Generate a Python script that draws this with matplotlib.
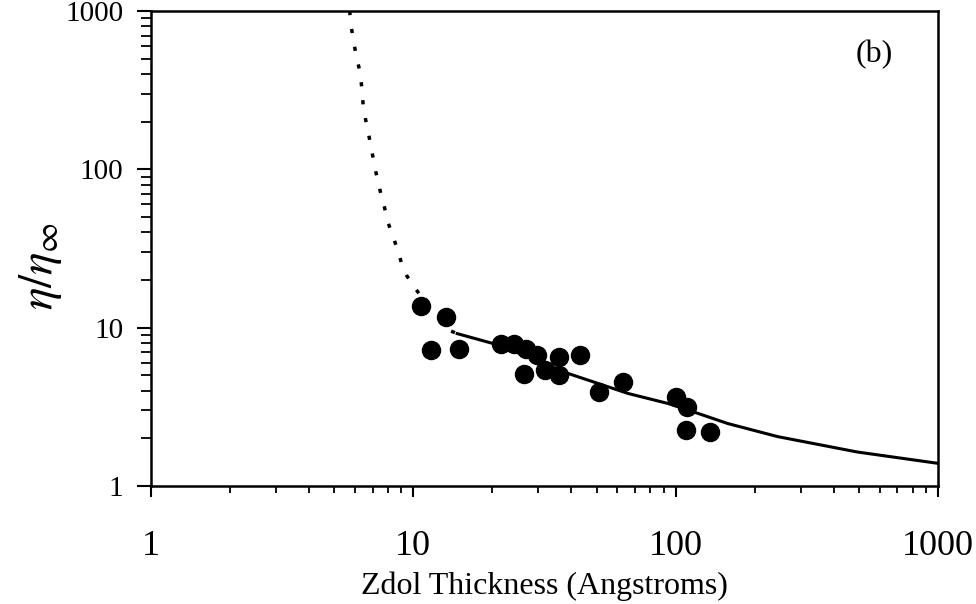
import matplotlib
matplotlib.use("Agg")
import matplotlib.pyplot as plt
from matplotlib.ticker import LogLocator, FixedLocator, NullFormatter

# -------- Data --------
thickness = [10.7, 13.3, 11.7, 14.9, 21.5, 24.1, 26.8, 29.6, 26.3, 31.9,
             35.8, 35.8, 43.1, 50.8, 63.2, 100.6, 110.7, 109.7, 135.0]
viscosity = [13.8, 11.6, 7.26, 7.3, 7.93, 7.93, 7.38, 6.69, 5.13, 5.38,
             6.53, 5.01, 6.69, 3.93, 4.54, 3.65, 3.16, 2.25, 2.20]

# extrapolated part of the model curve (dotted)
dot_x = [5.72, 5.78, 5.86, 6.04, 6.27, 6.37, 6.44, 6.59, 6.79, 6.98, 7.20,
         7.47, 7.74, 7.96, 8.39, 8.77, 9.03, 9.44, 10.06, 12.0, 13.7, 14.7]
dot_y = [1000, 824, 713, 533, 408, 321, 252, 203, 159, 125, 95.7,
         73.4, 59.0, 47.4, 37.2, 29.9, 25.3, 21.3, 18.1, 12.3, 9.62, 9.17]

# fitted part of the model curve (solid)
fit_x = [14.7, 21.3, 39.0, 65.9, 93.5, 122, 158, 245, 492, 1000]
fit_y = [9.17, 7.74, 5.13, 3.84, 3.32, 2.87, 2.48, 2.05, 1.64, 1.39]

# -------- Style --------
plt.rcParams['font.family'] = ['Liberation Serif', 'DejaVu Serif']
plt.rcParams['mathtext.fontset'] = 'stix'

W, H = 976, 604
fig = plt.figure(figsize=(W / 100, H / 100), dpi=100)
ax = fig.add_axes([151 / W, 1 - 486 / H, (938 - 151) / W, (486 - 11) / H])

ax.plot(dot_x, dot_y, color='black', lw=2.5, linestyle=(0, (1.2, 4)),
        dash_capstyle='butt')
ax.plot(fit_x, fit_y, color='black', lw=2.2)
ax.plot(thickness, viscosity, 'o', color='black', markersize=13, zorder=3)

ax.set_xscale('log')
ax.set_yscale('log')
ax.set_xlim(1, 1000)
ax.set_ylim(1, 1000)

ax.xaxis.set_major_locator(FixedLocator([1, 10, 100, 1000]))
ax.yaxis.set_major_locator(FixedLocator([1, 10, 100, 1000]))
ax.xaxis.set_minor_locator(LogLocator(base=10, subs=range(2, 10)))
ax.yaxis.set_minor_locator(LogLocator(base=10, subs=range(2, 10)))
ax.xaxis.set_minor_formatter(NullFormatter())
ax.yaxis.set_minor_formatter(NullFormatter())
ax.set_xticklabels(['1', '10', '100', '1000'])
ax.set_yticklabels(['1', '10', '100', '1000'])

for s in ax.spines.values():
    s.set_linewidth(1.8)

ax.tick_params(axis='x', which='major', direction='out', length=8, width=1.5,
               labelsize=26, pad=24)
ax.tick_params(axis='x', which='minor', direction='out', length=5, width=1.3)
ax.tick_params(axis='y', which='major', direction='out', length=10, width=1.5,
               labelsize=21, pad=10)
ax.tick_params(axis='y', which='minor', direction='out', length=7, width=1.3)

ax.set_xlabel('Zdol Thickness (Angstroms)', fontsize=23, labelpad=6)
fig.text(40 / W, 1 - 266 / H, r'$\eta/\eta_\infty$', fontsize=34,
         rotation=90, ha='center', va='center')

fig.text(874 / W, 1 - 55 / H, '(b)', fontsize=23, ha='center', va='center')

fig.savefig('out.png', dpi=100)
